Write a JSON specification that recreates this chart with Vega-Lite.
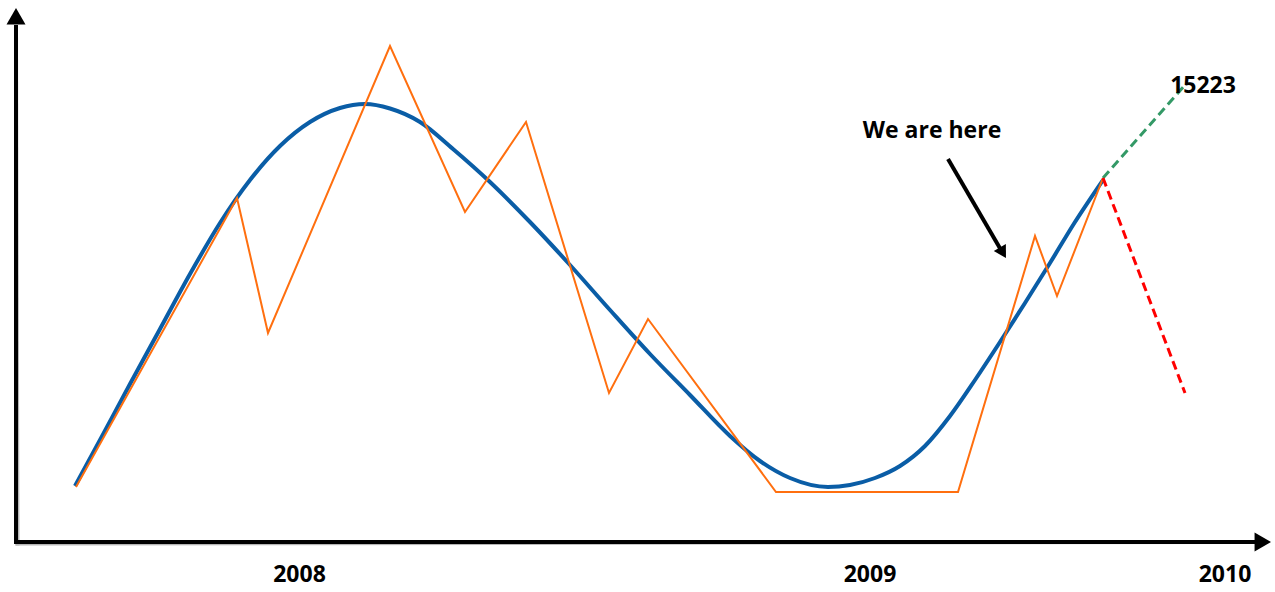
{
  "$schema": "https://vega.github.io/schema/vega-lite/v6.json",
  "width": 1275,
  "height": 592,
  "autosize": {"type": "fit", "contains": "padding"},
  "padding": 0,
  "background": "white",
  "config": {"view": {"stroke": null}},
  "datasets": {
    "axes": [
      {"x": 0, "y": -0.2, "x2": 0, "y2": 51.7},
      {"x": -0.2, "y": 0, "x2": 123.9, "y2": 0}
    ],
    "heads": [
      {"x": 0, "y": 52.58, "shape": "triangle-up"},
      {"x": 124.68, "y": 0, "shape": "triangle-right"}
    ],
    "blue": [
      {"x": 5.9, "y": 5.6}, {"x": 8.4, "y": 10.2}, {"x": 11.4, "y": 15.8}, {"x": 14.4, "y": 21.3},
      {"x": 17.4, "y": 26.8}, {"x": 20.4, "y": 31.9}, {"x": 23.4, "y": 36.2}, {"x": 26.4, "y": 39.6},
      {"x": 29.4, "y": 42.0}, {"x": 32.4, "y": 43.4}, {"x": 34.9, "y": 43.8}, {"x": 37.4, "y": 43.35},
      {"x": 40.4, "y": 42.0}, {"x": 43.7, "y": 39.3}, {"x": 47.4, "y": 36.0}, {"x": 51.4, "y": 32.0},
      {"x": 55.4, "y": 27.7}, {"x": 59.4, "y": 23.2}, {"x": 63.4, "y": 18.8}, {"x": 67.4, "y": 14.7},
      {"x": 71.4, "y": 10.6}, {"x": 74.4, "y": 8.1}, {"x": 77.4, "y": 6.4}, {"x": 81.2, "y": 5.5},
      {"x": 83.4, "y": 5.7}, {"x": 85.9, "y": 6.4}, {"x": 88.4, "y": 7.6}, {"x": 90.9, "y": 9.6},
      {"x": 93.4, "y": 12.6}, {"x": 95.9, "y": 16.2}, {"x": 98.4, "y": 20.0}, {"x": 100.9, "y": 23.9},
      {"x": 103.4, "y": 27.9}, {"x": 105.9, "y": 32.0}, {"x": 108.7, "y": 36.2}
    ],
    "orange": [
      {"x": 6.0, "y": 5.5}, {"x": 22.1, "y": 34.4}, {"x": 25.2, "y": 20.9}, {"x": 37.4, "y": 49.6},
      {"x": 44.9, "y": 33.0}, {"x": 51.0, "y": 42.0}, {"x": 59.3, "y": 14.9}, {"x": 63.2, "y": 22.3},
      {"x": 76.0, "y": 5.0}, {"x": 94.2, "y": 5.0}, {"x": 101.9, "y": 30.6}, {"x": 104.1, "y": 24.6},
      {"x": 108.7, "y": 36.4}
    ],
    "green": [{"x": 108.7, "y": 36.4}, {"x": 116.9, "y": 45.7}],
    "red": [{"x": 108.7, "y": 36.4}, {"x": 116.9, "y": 14.9}],
    "pointer": [{"x": 93.2, "y": 38.3, "x2": 98.5, "y2": 29.2}],
    "pointerHead": [{"x": 98.69, "y": 28.92}],
    "labels": [
      {"x": 28.35, "y": -3.3, "text": "2008"},
      {"x": 85.4, "y": -3.3, "text": "2009"},
      {"x": 120.9, "y": -3.3, "text": "2010"},
      {"x": 91.6, "y": 41.1, "text": "We are here"},
      {"x": 118.7, "y": 45.6, "text": "15223"}
    ]
  },
  "encoding": {
    "x": {"field": "x", "type": "quantitative", "scale": {"domain": [-1.6, 125.9], "nice": false, "zero": false}, "axis": null},
    "y": {"field": "y", "type": "quantitative", "scale": {"domain": [-5, 54.2], "nice": false, "zero": false}, "axis": null}
  },
  "layer": [
    {
      "data": {"name": "axes"},
      "mark": {"type": "rule", "color": "#b5b5b5", "strokeWidth": 4, "xOffset": 1.5, "yOffset": 1.5},
      "encoding": {"x2": {"field": "x2"}, "y2": {"field": "y2"}}
    },
    {
      "data": {"name": "axes"},
      "mark": {"type": "rule", "color": "black", "strokeWidth": 4},
      "encoding": {"x2": {"field": "x2"}, "y2": {"field": "y2"}}
    },
    {
      "data": {"name": "heads"},
      "mark": {"type": "point", "filled": true, "color": "black", "opacity": 1, "size": 361},
      "encoding": {"shape": {"field": "shape", "type": "nominal", "scale": null, "legend": null}}
    },
    {
      "data": {"name": "blue"},
      "mark": {"type": "line", "color": "#0a5da6", "strokeWidth": 4, "interpolate": "monotone"}
    },
    {
      "data": {"name": "orange"},
      "mark": {"type": "line", "color": "#ff6f0f", "strokeWidth": 2}
    },
    {
      "data": {"name": "green"},
      "mark": {"type": "line", "color": "#339966", "strokeWidth": 3, "strokeDash": [9, 5]}
    },
    {
      "data": {"name": "red"},
      "mark": {"type": "line", "color": "#ff0000", "strokeWidth": 3, "strokeDash": [9, 5]}
    },
    {
      "data": {"name": "pointer"},
      "mark": {"type": "rule", "color": "black", "strokeWidth": 4},
      "encoding": {"x2": {"field": "x2"}, "y2": {"field": "y2"}}
    },
    {
      "data": {"name": "pointerHead"},
      "mark": {"type": "point", "shape": "triangle-up", "filled": true, "color": "black", "opacity": 1, "size": 196, "angle": 149.6}
    },
    {
      "data": {"name": "labels"},
      "mark": {"type": "text", "font": "Open Sans", "fontWeight": "bold", "fontSize": 23, "align": "center", "baseline": "middle", "color": "black"},
      "encoding": {"text": {"field": "text", "type": "nominal"}}
    }
  ]
}
